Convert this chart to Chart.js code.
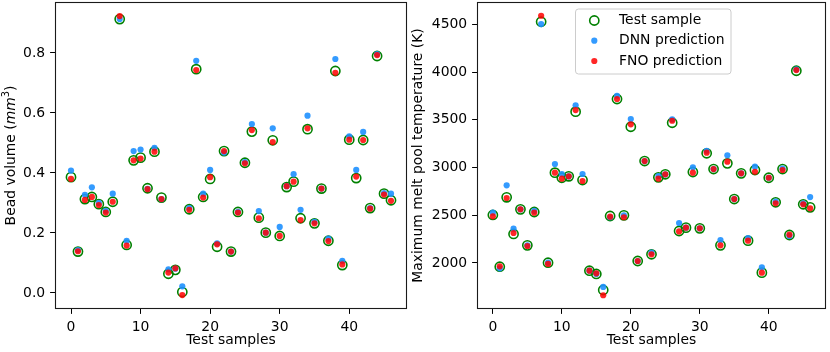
<!DOCTYPE html>
<html>
<head>
<meta charset="utf-8">
<script src="https://cdn.jsdelivr.net/npm/chart.js@4.4.1/dist/chart.umd.min.js"></script>
<style>
  html, body { margin: 0; padding: 0; background: #fff; }
  #wrap { position: relative; width: 830px; height: 352px; background: #fff; }
  canvas { position: absolute; top: 0; }
</style>
</head>
<body>
<div id="wrap">
  <canvas id="c1" width="410" height="352" style="left:0px;width:410px;height:352px"></canvas>
  <canvas id="c2" width="420" height="352" style="left:410px;width:420px;height:352px"></canvas>
</div>
<script>
// ---------------- DATA ----------------
const samples = [0,1,2,3,4,5,6,7,8,9,10,11,12,13,14,15,16,17,18,19,20,21,22,23,24,25,26,27,28,29,30,31,32,33,34,35,36,37,38,39,40,41,42,43,44,45,46];

const volumeTest = [0.386,0.138,0.313,0.320,0.296,0.270,0.304,0.913,0.160,0.442,0.451,0.349,0.471,0.318,0.064,0.077,0.003,0.279,0.746,0.320,0.380,0.154,0.473,0.138,0.270,0.434,0.538,0.251,0.201,0.509,0.190,0.353,0.371,0.249,0.546,0.232,0.348,0.174,0.740,0.093,0.511,0.383,0.510,0.283,0.790,0.331,0.309];
const volumeDNN  = [0.408,0.143,0.327,0.352,0.300,0.274,0.331,0.913,0.174,0.473,0.478,0.347,0.484,0.313,0.079,0.081,0.022,0.283,0.774,0.331,0.410,0.165,0.468,0.138,0.270,0.436,0.563,0.273,0.201,0.549,0.220,0.356,0.396,0.277,0.591,0.237,0.348,0.181,0.780,0.107,0.522,0.410,0.537,0.283,0.796,0.333,0.331];
const volumeFNO  = [0.380,0.139,0.310,0.320,0.293,0.268,0.304,0.923,0.158,0.442,0.448,0.346,0.471,0.313,0.068,0.082,-0.007,0.277,0.743,0.318,0.386,0.162,0.473,0.138,0.268,0.432,0.543,0.249,0.201,0.503,0.190,0.356,0.371,0.243,0.549,0.232,0.348,0.173,0.734,0.095,0.511,0.388,0.510,0.281,0.793,0.328,0.307];

const tempTest = [2503,1961,2688,2304,2562,2185,2534,4527,2003,2946,2893,2908,3585,2869,1919,1885,1717,2492,3718,2499,3427,2021,3068,2091,2897,2929,3469,2335,2370,2953,2363,3149,2984,2185,3044,2670,2939,2234,2974,1899,2893,2636,2984,2293,4014,2615,2583];
const tempDNN  = [2527,1944,2814,2359,2562,2185,2545,4503,2003,3037,2932,2908,3652,2932,1919,1885,1749,2479,3752,2499,3508,2021,3068,2108,2911,2929,3505,2419,2370,3002,2363,3176,2984,2241,3128,2670,2939,2262,3009,1955,2893,2643,2990,2283,4028,2625,2691];
const tempFNO  = [2489,1965,2681,2314,2562,2178,2527,4590,1990,2946,2883,2908,3602,2859,1919,1892,1662,2485,3718,2479,3453,2021,3068,2091,2883,2929,3490,2331,2370,2946,2363,3156,2984,2185,3061,2670,2939,2234,2956,1899,2893,2625,2974,2297,4021,2615,2573];

const xTicks = [0,10,20,30,40];
const volumeTicks = [0.0,0.2,0.4,0.6,0.8];
const tempTicks = [2000,2500,3000,3500,4000,4500];

const seriesNames = ['Test sample','DNN prediction','FNO prediction'];
const xTitle = 'Test samples';
const tempTitle = 'Maximum melt pool temperature (K)';

// ---------------- STYLE ----------------
const FONT = "'DejaVu Sans', sans-serif";
const FS = 13.9;
const GREEN = '#008000';
const BLUE = 'rgba(30,144,255,0.9)';
const RED = 'rgba(255,0,0,0.85)';

function pts(xs, ys) { return xs.map((x, i) => ({x: x, y: ys[i]})); }

function makeDatasets(t, d, f) {
  return [
    {label: seriesNames[0], data: pts(samples, t), pointRadius: 4.6, pointBorderWidth: 1.6,
     pointBorderColor: GREEN, pointBackgroundColor: 'rgba(0,0,0,0)', showLine: false, order: 2},
    {label: seriesNames[1], data: pts(samples, d), pointRadius: 3.1, pointBorderWidth: 0,
     pointBorderColor: BLUE, pointBackgroundColor: BLUE, showLine: false, order: 1},
    {label: seriesNames[2], data: pts(samples, f), pointRadius: 3.1, pointBorderWidth: 0,
     pointBorderColor: RED, pointBackgroundColor: RED, showLine: false, order: 0}
  ];
}

const framePlugin = {
  id: 'frame',
  afterDraw(chart) {
    const {ctx, chartArea: a} = chart;
    ctx.save();
    ctx.strokeStyle = '#1a1a1a';
    ctx.lineWidth = 1.1;
    ctx.strokeRect(Math.round(a.left) + 0.5, Math.round(a.top) + 0.5,
                   Math.round(a.right - a.left) - 1, Math.round(a.bottom - a.top) - 1);
    ctx.restore();
  }
};

const titlePlugin = {
  id: 'titles',
  afterDraw(chart, args, o) {
    const {ctx, chartArea: a} = chart;
    ctx.save();
    ctx.fillStyle = '#000';
    ctx.textBaseline = 'middle';
    ctx.textAlign = 'center';
    ctx.font = FS + 'px ' + FONT;
    ctx.fillText(xTitle, (a.left + a.right) / 2, o.xTitleY);
    ctx.translate(o.yTitleX, (a.top + a.bottom) / 2);
    ctx.rotate(-Math.PI / 2);
    if (o.parts) {
      let total = 0;
      const widths = o.parts.map(p => {
        ctx.font = p.font;
        const w = ctx.measureText(p.text).width;
        total += w;
        return w;
      });
      let x = -total / 2;
      ctx.textAlign = 'left';
      o.parts.forEach((p, i) => {
        ctx.font = p.font;
        ctx.textBaseline = 'alphabetic';
        ctx.fillText(p.text, x, FS * 0.36 + (p.dy || 0));
        x += widths[i];
      });
    } else {
      ctx.fillText(o.yTitle, 0, 0);
    }
    ctx.restore();
  }
};

const legendPlugin = {
  id: 'mplLegend',
  afterDraw(chart, args, o) {
    if (!o.show) return;
    const ctx = chart.ctx;
    ctx.save();
    const x0 = o.x, y0 = o.y, w = o.w, h = o.h, r = 3;
    ctx.beginPath();
    ctx.moveTo(x0 + r, y0);
    ctx.lineTo(x0 + w - r, y0); ctx.arcTo(x0 + w, y0, x0 + w, y0 + r, r);
    ctx.lineTo(x0 + w, y0 + h - r); ctx.arcTo(x0 + w, y0 + h, x0 + w - r, y0 + h, r);
    ctx.lineTo(x0 + r, y0 + h); ctx.arcTo(x0, y0 + h, x0, y0 + h - r, r);
    ctx.lineTo(x0, y0 + r); ctx.arcTo(x0, y0, x0 + r, y0, r);
    ctx.closePath();
    ctx.fillStyle = 'rgba(255,255,255,0.8)';
    ctx.fill();
    ctx.strokeStyle = '#cccccc';
    ctx.lineWidth = 1;
    ctx.stroke();
    const rows = o.rows;
    chart.data.datasets.forEach((ds, i) => {
      const cy = rows[i];
      ctx.beginPath();
      ctx.arc(o.mx, cy, ds.pointRadius, 0, Math.PI * 2);
      if (ds.pointBorderWidth > 0) {
        ctx.strokeStyle = ds.pointBorderColor;
        ctx.lineWidth = ds.pointBorderWidth;
        ctx.stroke();
      } else {
        ctx.fillStyle = ds.pointBackgroundColor;
        ctx.fill();
      }
      ctx.fillStyle = '#000';
      ctx.font = FS + 'px ' + FONT;
      ctx.textAlign = 'left';
      ctx.textBaseline = 'middle';
      ctx.fillText(ds.label, o.tx, cy);
    });
    ctx.restore();
  }
};

function axisCommon(tickList, fmt, extra) {
  return Object.assign({
    type: 'linear',
    grid: {display: true, drawOnChartArea: false, drawTicks: true, tickLength: 4.9,
           color: '#000', lineWidth: 1},
    border: {display: false},
    ticks: {color: '#000', font: {family: FONT, size: FS}, padding: 4.9,
            autoSkip: false, maxRotation: 0, callback: fmt},
    afterBuildTicks(scale) { scale.ticks = tickList.map(v => ({value: v})); }
  }, extra);
}

function makeChart(id, datasets, yMin, yMax, yTicks, yFmt, yWidth, padRight, titleOpts, legendOpts) {
  return new Chart(document.getElementById(id), {
    type: 'scatter',
    data: {datasets: datasets},
    options: {
      responsive: false,
      animation: false,
      devicePixelRatio: 1,
      layout: {autoPadding: false, padding: {left: 0, top: 2, right: padRight, bottom: 0}},
      plugins: {
        legend: {display: false},
        tooltip: {enabled: false},
        titles: titleOpts,
        mplLegend: legendOpts
      },
      scales: {
        x: axisCommon(xTicks, v => String(v), {
          position: 'bottom', min: -2.3, max: 48.3,
          afterFit(s) { s.height = 43; s.paddingLeft = 0; s.paddingRight = 0; s.paddingTop = 0; s.paddingBottom = 0; }
        }),
        y: axisCommon(yTicks, yFmt, {
          position: 'left', min: yMin, max: yMax,
          afterFit(s) { s.width = yWidth; s.paddingLeft = 0; s.paddingRight = 0; s.paddingTop = 0; s.paddingBottom = 0; }
        })
      }
    },
    plugins: [framePlugin, titlePlugin, legendPlugin]
  });
}

makeChart('c1', makeDatasets(volumeTest, volumeDNN, volumeFNO),
  -0.0535, 0.97, volumeTicks, v => Number(v).toFixed(1), 55, 3,
  {xTitleY: 340, yTitleX: 9.5, parts: [
    {text: 'Bead volume (', font: FS + 'px ' + FONT},
    {text: 'mm', font: 'italic ' + FS + 'px ' + FONT},
    {text: '3', font: (FS * 0.7).toFixed(2) + 'px ' + FONT, dy: -FS * 0.38},
    {text: ')', font: FS + 'px ' + FONT}
  ]},
  {show: false});

makeChart('c2', makeDatasets(tempTest, tempDNN, tempFNO),
  1518, 4734, tempTicks, v => String(v), 67, 4,
  {xTitleY: 340, yTitleX: 8, yTitle: tempTitle},
  {show: true, x: 165.5, y: 9, w: 155.5, h: 65, mx: 184.3, tx: 209, rows: [20.5, 40.7, 61]});
</script>
</body>
</html>
